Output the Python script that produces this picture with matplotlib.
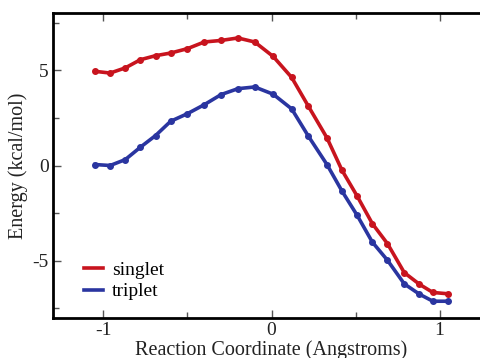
import matplotlib
matplotlib.use("Agg")
import matplotlib.pyplot as plt
from matplotlib.ticker import MultipleLocator

x = [-1.05, -0.96, -0.87, -0.78, -0.69, -0.60, -0.50, -0.40, -0.30, -0.20, -0.10,
     0.01, 0.12, 0.22, 0.33, 0.42, 0.51, 0.60, 0.69, 0.79, 0.88, 0.96, 1.05]
singlet = [4.94, 4.85, 5.12, 5.55, 5.76, 5.90, 6.13, 6.48, 6.56, 6.69, 6.48,
           5.72, 4.62, 3.10, 1.45, -0.26, -1.61, -3.05, -4.10, -5.62, -6.23, -6.66, -6.73]
triplet = [0.05, 0.0, 0.31, 0.96, 1.57, 2.32, 2.72, 3.19, 3.72, 4.03, 4.12,
           3.74, 2.97, 1.53, 0.05, -1.35, -2.62, -4.02, -4.97, -6.21, -6.75, -7.12, -7.12]
labels = ["singlet", "triplet"]
colors = ["#c8141e", "#2a35a0"]

plt.rcParams['font.family'] = ['Liberation Serif', 'DejaVu Serif']

fig = plt.figure(figsize=(4.8, 3.58), dpi=100)
ax = fig.add_axes([53/480, 1-318/358, (490-53)/480, (318-13)/358])

for ys, lab, c in zip([singlet, triplet], labels, colors):
    ax.plot(x, ys, color=c, lw=2.6, marker='o', ms=4, label=lab)

ax.set_xlim(-1.3, 1.3)
ax.set_ylim(-8, 8)
ax.xaxis.set_minor_locator(MultipleLocator(0.5))
ax.yaxis.set_minor_locator(MultipleLocator(2.5))
ax.set_xticks([-1, 0, 1])
ax.set_xticklabels(["-1", "0", "1"])
ax.set_yticks([-5, 0, 5])
ax.set_yticklabels(["-5", "0", "5"])
ax.tick_params(which='both', direction='in', top=True, right=False, labelsize=14,
               colors='#555555', labelcolor='#222222')
ax.tick_params(which='major', length=6, width=1, pad=3)
ax.tick_params(which='minor', length=4, width=1)
for s in ['left', 'bottom', 'top']:
    ax.spines[s].set_linewidth(2)
ax.spines['right'].set_visible(False)

ax.set_xlabel("Reaction Coordinate (Angstroms)", fontsize=14.5, labelpad=1, color='#222222')
ax.set_ylabel("Energy (kcal/mol)", fontsize=14.5, labelpad=3, color='#222222')

ax.legend(loc='lower left', bbox_to_anchor=(0.03, 0.0), frameon=False, fontsize=14,
          handlelength=1.0, handletextpad=0.45, labelspacing=0.2)
leg = ax.get_legend()
for h in leg.legend_handles:
    h.set_marker('')

fig.savefig("out.png", dpi=100)
